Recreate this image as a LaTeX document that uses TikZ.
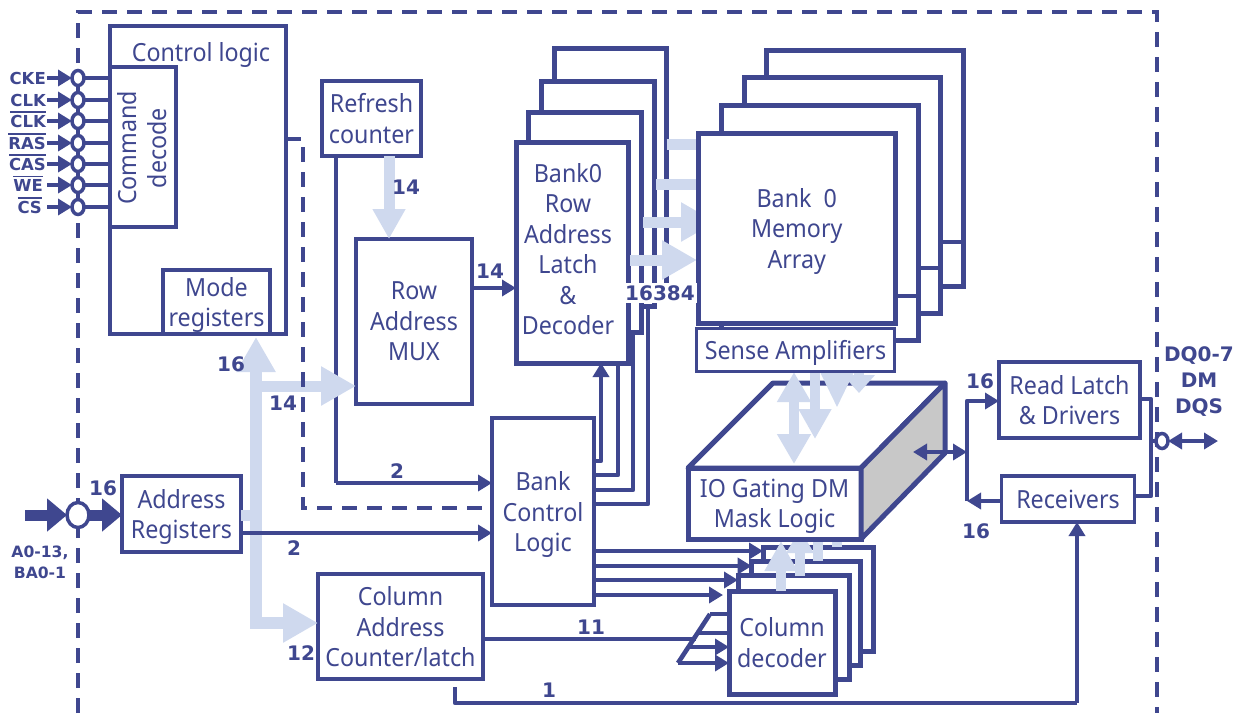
\documentclass[tikz,border=0pt]{standalone}
\usepackage{fontspec}
\setmainfont[FakeStretch=0.93]{Noto Sans}
\newfontfamily\numfont{DejaVu Sans}
\usetikzlibrary{arrows.meta,shapes.geometric}

\definecolor{darkblue}{HTML}{3F478F}
\definecolor{lightblue}{HTML}{CFD9EE}
\definecolor{sidegrey}{HTML}{C8C8C8}

\newcommand{\barred}[1]{\leavevmode\vbox{\hrule height 1.8pt \kern 1.6pt \hbox{#1}}}

\begin{document}
\begin{tikzpicture}[x=1pt, y=-1pt]
  \tikzset{
    main_text/.style={text=darkblue, align=center, text depth=0pt, font=\fontsize{25}{30.5}\selectfont},
    box_node/.style={rectangle, main_text, draw=darkblue, fill=white, line width=3.6pt, inner sep=0pt, outer sep=0pt, anchor=north west},
    stack_node/.style={box_node, line width=5pt},
    num_label/.style={text=darkblue, align=center, inner sep=1pt, font=\numfont\bfseries\fontsize{20}{26}\selectfont},
    pin_label/.style={text=darkblue, inner sep=1pt, anchor=base east, font=\numfont\bfseries\fontsize{16.5}{21}\selectfont},
    pin_node/.style={ellipse, draw=darkblue, fill=white, line width=3.5pt, inner sep=0pt, outer sep=0pt, minimum width=12pt, minimum height=15pt},
    wire/.style={draw=darkblue, line width=4.6pt, line join=round},
    wire_arrow/.style={wire, -{Triangle[length=14pt,width=16pt]}},
    wire_both/.style={wire, {Triangle[length=14pt,width=16pt]}-{Triangle[length=14pt,width=16pt]}},
    big_arrow/.style={draw=darkblue, line width=11pt, -{Triangle[length=20pt,width=32pt]}},
    dash_line/.style={draw=darkblue, line width=3.5pt, dash pattern=on 15pt off 10pt},
    light_line/.style={draw=lightblue, line width=11pt},
    light_arrow/.style={light_line, -{Triangle[length=35pt,width=37pt]}},
    light_small/.style={light_line, -{Triangle[length=30pt,width=31pt]}},
    light_both/.style={light_line, {Triangle[length=30pt,width=32pt]}-{Triangle[length=30pt,width=32pt]}}
  }

  \useasboundingbox (0,0) rectangle (1242,713);

  % Outer chip border
  \draw[dash_line] (78,713) -- (78,12) -- (1157,12) -- (1157,713);

  % Control block
  \node[box_node, minimum width=176pt, minimum height=308pt] (ctrl) at (110,26) {};
  \node[main_text] (ctrl_txt) at (201,52) {Control logic};
  \node[box_node, minimum width=66pt, minimum height=160pt] (cmd) at (110,67) {};
  \node[main_text, rotate=90] (cmd_txt) at (142,148) {Command\\decode};
  \node[box_node, minimum width=107pt, minimum height=64pt] (mode) at (163,270) {Mode\\registers};

  % Command pins
  \draw[wire, line width=3.5pt] (78,78) -- (78,207);
  \node[pin_node] (cke) at (78,78) {};
  \node[pin_node] (clk) at (78,100) {};
  \node[pin_node] (clkn) at (78,121) {};
  \node[pin_node] (ras) at (78,143) {};
  \node[pin_node] (cas) at (78,164) {};
  \node[pin_node] (we) at (78,185) {};
  \node[pin_node] (cs) at (78,207) {};
  \node[pin_label] (cke_lbl) at (47,84) {CKE};
  \node[pin_label] (clk_lbl) at (47,106) {CLK};
  \node[pin_label] (clkn_lbl) at (47,127) {\barred{CLK}};
  \node[pin_label] (ras_lbl) at (47,149) {\barred{RAS}};
  \node[pin_label] (cas_lbl) at (47,170) {\barred{CAS}};
  \node[pin_label] (we_lbl) at (44,191) {\barred{WE}};
  \node[pin_label] (cs_lbl) at (43,213) {\barred{CS}};
  \draw[wire_arrow] (cke_lbl.east |- cke) -- (cke.west);
  \draw[wire_arrow] (clk_lbl.east |- clk) -- (clk.west);
  \draw[wire_arrow] (clkn_lbl.east |- clkn) -- (clkn.west);
  \draw[wire_arrow] (ras_lbl.east |- ras) -- (ras.west);
  \draw[wire_arrow] (cas_lbl.east |- cas) -- (cas.west);
  \draw[wire_arrow] (clk_lbl.east |- we) -- (we.west);
  \draw[wire_arrow] (clk_lbl.east |- cs) -- (cs.west);
  \draw[wire] (cke.east) -- (cmd.west |- cke);
  \draw[wire] (clk.east) -- (cmd.west |- clk);
  \draw[wire] (clkn.east) -- (cmd.west |- clkn);
  \draw[wire] (ras.east) -- (cmd.west |- ras);
  \draw[wire] (cas.east) -- (cmd.west |- cas);
  \draw[wire] (we.east) -- (cmd.west |- we);
  \draw[wire] (cs.east) -- (cmd.west |- cs);

  % Address side blocks
  \node[box_node, line width=4pt, minimum width=99pt, minimum height=75pt] (refresh) at (322,81) {Refresh\\counter};
  \node[box_node, minimum width=116pt, minimum height=165pt] (mux) at (356,239) {Row\\Address\\MUX};
  \node[box_node, minimum width=119pt, minimum height=76pt] (addr) at (122,476) {Address\\Registers};
  \node[box_node, minimum width=165pt, minimum height=105pt] (col_addr) at (318,574) {Column\\Address\\Counter/latch};
  \node[box_node, minimum width=102pt, minimum height=187pt] (bank_ctl) at (492,418) {Bank\\Control\\Logic};

  % Row decoder stack
  \node[stack_node, minimum width=112.7pt, minimum height=250pt] (row_d) at (554,48) {};
  \node[stack_node, minimum width=112.5pt, minimum height=225pt] (row_c) at (541.7,81) {};
  \node[stack_node, minimum width=113.5pt, minimum height=220pt] (row_b) at (528,112) {};
  \node[stack_node, minimum width=112.5pt, minimum height=220.5pt] (row_a) at (516,142.5) {};
  \node[main_text] (row_txt) at (568,249) {Bank0\\Row\\Address\\Latch\\\&\\Decoder};

  % Memory array stack
  \node[stack_node, minimum width=197pt, minimum height=236pt] (mem_d) at (766,50) {};
  \node[stack_node, minimum width=196pt, minimum height=236pt] (mem_c) at (744,77) {};
  \node[stack_node, minimum width=197pt, minimum height=235pt] (mem_b) at (721,105) {};
  \draw[wire] (mem_b.east |- 0,268) -- (mem_c.east |- 0,268);
  \draw[wire] (mem_c.east |- 0,242) -- (mem_d.east |- 0,242);

  % Light arrows into the array
  \draw[light_line] (row_d.east |- 0,144) -- (700,144);
  \draw[light_line] (656,184) -- (700,184);
  \draw[light_arrow] (643,222) -- (716,222);
  \draw[light_arrow] (630,260) -- (697,260);

  \node[stack_node, minimum width=196.5pt, minimum height=190pt] (mem_a) at (698.5,133) {Bank\ \ 0\\Memory\\Array};
  \draw[wire] (mem_a.east |- 0,296) -- (mem_b.east |- 0,296);

  % Bank control wires
  \draw[wire_arrow] (bank_ctl.east |- 0,461) -- (601,461) -- (601,0 |- row_a.south);
  \draw[wire] (bank_ctl.east |- 0,475) -- (618,475) -- (618,0 |- row_a.south);
  \draw[wire] (bank_ctl.east |- 0,490) -- (633,490) -- (633,0 |- row_b.south);
  \draw[wire] (bank_ctl.east |- 0,504) -- (648,504) -- (648,0 |- row_c.south);
  \node[num_label, fill=white, inner sep=2pt] (width_lbl) at (660,293) {16384};

  % Column decoder stack
  \node[stack_node, minimum width=110pt, minimum height=104pt] (col_d) at (763,547) {};
  \node[stack_node, minimum width=109pt, minimum height=104pt] (col_c) at (751.7,561) {};
  \node[stack_node, minimum width=111pt, minimum height=104pt] (col_b) at (738,575) {};
  \node[stack_node, minimum width=106pt, minimum height=103pt] (col_a) at (729,591) {Column\\decoder};
  \draw[wire_arrow] (bank_ctl.east |- 0,551) -- (col_d.west |- 0,551);
  \draw[wire_arrow] (bank_ctl.east |- 0,566) -- (col_c.west |- 0,566);
  \draw[wire_arrow] (bank_ctl.east |- 0,580) -- (col_b.west |- 0,580);
  \draw[wire_arrow] (bank_ctl.east |- 0,595) -- (723,595);

  % Column decoder inputs
  \coordinate (slant_top) at (710,614);
  \coordinate (slant_bot) at (678,663);
  \coordinate (slant_mid) at (696,636);
  \draw[wire] (slant_top) -- (slant_bot);
  \draw[wire] (slant_top) -- (col_a.west |- slant_top);
  \draw[wire] (col_addr.east |- 0,639) -- (slant_mid |- 0,639);
  \draw[wire] (slant_mid |- 0,633) -- (col_a.west |- 0,633);
  \draw[wire_arrow] (690,647) -- (col_a.west |- 0,647);
  \draw[wire_arrow] (slant_bot) -- (col_a.west |- slant_bot);

  % Light arrows out of the column decoder
  \draw[light_line, line width=10pt] (837,541) -- (837,0 |- col_d.north);
  \draw[light_line, line width=10pt] (818,541) -- (818,561);
  \draw[light_line, line width=10pt, -{Triangle[length=24pt,width=26pt]}] (800,576) -- (800,529);
  \draw[light_small, line width=10pt] (781,0 |- col_a.north) -- (781,541);

  % IO gating block
  \node[stack_node, minimum width=173pt, minimum height=71pt] (io) at (688,468) {IO Gating DM\\Mask Logic};
  \draw[wire, line width=5pt, fill=white] (io.north west) -- (773,383) -- (945,383) -- (io.north east) -- cycle;
  \draw[wire, line width=5pt, fill=sidegrey] (io.north east) -- (945,383) -- (945,453) -- (io.south east) -- cycle;

  % Light arrows between sense amplifiers and IO block
  \draw[light_line, -{Triangle[length=18pt,width=31pt]}, line width=10pt] (859,362) -- (859,393);
  \draw[light_line, -{Triangle[length=36pt,width=31pt]}, line width=10pt] (837,362) -- (837,408);
  \draw[light_small, line width=10pt] (815,362) -- (815,439);
  \draw[light_both, line width=10pt] (794,372) -- (794,464);
  \node[box_node, minimum width=198pt, minimum height=43pt] (sense) at (696.5,328.5) {Sense Amplifiers};

  % Data path
  \node[box_node, minimum width=141pt, minimum height=76pt] (read) at (999,362) {Read Latch\\\& Drivers};
  \node[box_node, minimum width=133pt, minimum height=46pt] (recv) at (1001.5,476) {Receivers};
  \node[pin_node] (dq_pin) at (1162,441) {};
  \coordinate (rd_top) at (967,401);
  \coordinate (rd_bot) at (967,501);
  \coordinate (io_side) at (913,452);
  \coordinate (dq_bus) at (1151,441);
  \coordinate (dq_end) at (1218,441);
  \draw[wire_arrow] (rd_bot) -- (rd_top) -- (read.west |- rd_top);
  \draw[wire_arrow] (recv.west |- rd_bot) -- (rd_bot);
  \draw[wire_both] (io_side) -- (rd_top |- io_side);
  \draw[wire] (read.east |- 0,399) -- (dq_bus |- 0,399) -- (dq_bus |- 0,496) -- (recv.east |- 0,496);
  \draw[wire] (dq_bus) -- (dq_pin.west);
  \draw[wire_both] (dq_pin.east) -- (dq_end);

  % Address input
  \coordinate (addr_in) at (25,515);
  \node[pin_node, minimum width=22pt, minimum height=25pt] (addr_pin) at (78,515) {};
  \draw[big_arrow] (addr_in) -- (addr_pin.west);
  \draw[big_arrow] (addr_pin.east) -- (addr.west |- addr_pin);

  % Light address bus
  \coordinate (bus_bot) at (256,623);
  \coordinate (bus_top) at (256,337);
  \draw[light_line] (addr.east |- addr_pin) -- (bus_bot |- addr_pin);
  \draw[light_arrow, line width=12pt] (bus_bot) -- (bus_top);
  \draw[light_arrow, line width=12pt] (bus_bot) ++(-6,0) -- (col_addr.west |- bus_bot);

  % Refresh and select wires
  \draw[wire] (336,0 |- refresh.south) -- (336,483);
  \draw[wire_arrow] (336,483) -- (bank_ctl.west |- 0,483);
  \draw[light_arrow] (bus_top |- 0,386) -- (mux.west |- 0,386);
  \draw[light_small] (389,0 |- refresh.south) -- (389,0 |- mux.north);
  \draw[wire_arrow] (mux.east |- 0,288) -- (row_a.west |- 0,288);
  \draw[wire_arrow] (addr.east |- 0,533) -- (bank_ctl.west |- 0,533);
  \draw[dash_line] (ctrl.east |- 0,139) -- (303,139) -- (303,508) -- (bank_ctl.west |- 0,508);
  \draw[wire] (455,0 |- col_addr.south) ++(0,8) -- (455,703) -- (1077,703);
  \draw[wire_arrow] (1077,703) -- (1077,0 |- recv.south);

  % Bit width labels
  \node[num_label] (n_a) at (103,488) {16};
  \node[num_label] (n_b) at (231,364) {16};
  \node[num_label] (n_c) at (283,403) {14};
  \node[num_label] (n_d) at (406,187) {14};
  \node[num_label] (n_e) at (490,271) {14};
  \node[num_label] (n_f) at (397,471) {2};
  \node[num_label] (n_g) at (294,548) {2};
  \node[num_label] (n_h) at (301,653) {12};
  \node[num_label] (n_i) at (591,627) {11};
  \node[num_label] (n_j) at (549,690) {1};
  \node[num_label] (n_k) at (980,381) {16};
  \node[num_label] (n_l) at (976,531) {16};
  \node[num_label] (dq_lbl) at (1199,382) {DQ0-7\\DM\\DQS};
  \node[pin_label, anchor=center, align=center, font=\numfont\bfseries\fontsize{15.6}{21}\selectfont] (addr_lbl) at (40,562) {A0-13,\\BA0-1};
\end{tikzpicture}
\end{document}
